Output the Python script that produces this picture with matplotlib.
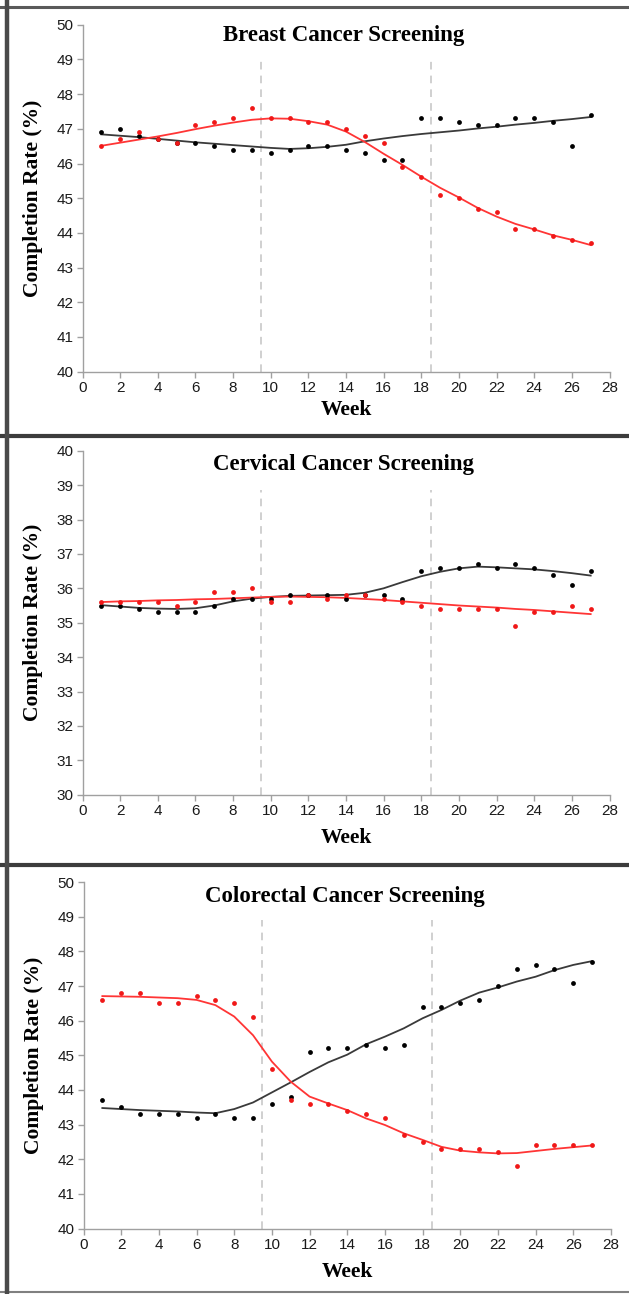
import matplotlib
matplotlib.use("Agg")
import matplotlib.pyplot as plt
from matplotlib.lines import Line2D

# ---------------- data ----------------
weeks = list(range(1, 28))
x_ticks = list(range(0, 29, 2))
intervention_weeks = [9.5, 18.5]

titles = ["Breast Cancer Screening", "Cervical Cancer Screening", "Colorectal Cancer Screening"]
y_ranges = [(40, 50), (30, 40), (40, 50)]

breast_black = [46.9, 47.0, 46.8, 46.7, 46.6, 46.6, 46.5, 46.4, 46.4, 46.3, 46.4, 46.5, 46.5, 46.4,
                46.3, 46.1, 46.1, 47.3, 47.3, 47.2, 47.1, 47.1, 47.3, 47.3, 47.2, 46.5, 47.4]
breast_red = [46.5, 46.7, 46.9, 46.7, 46.6, 47.1, 47.2, 47.3, 47.6, 47.3, 47.3, 47.2, 47.2, 47.0,
              46.8, 46.6, 45.9, 45.6, 45.1, 45.0, 44.7, 44.6, 44.1, 44.1, 43.9, 43.8, 43.7]
breast_black_fit = [46.84, 46.80, 46.76, 46.71, 46.66, 46.61, 46.57, 46.53, 46.49, 46.45, 46.42, 46.44,
                    46.48, 46.54, 46.64, 46.72, 46.79, 46.85, 46.90, 46.95, 47.01, 47.06, 47.12, 47.17,
                    47.23, 47.28, 47.34]
breast_red_fit = [46.51, 46.60, 46.69, 46.78, 46.88, 46.99, 47.09, 47.18, 47.26, 47.30, 47.29, 47.22,
                  47.12, 46.92, 46.62, 46.28, 45.96, 45.62, 45.30, 45.02, 44.72, 44.47, 44.26, 44.10,
                  43.93, 43.80, 43.65]

cervical_black = [35.5, 35.5, 35.4, 35.3, 35.3, 35.3, 35.5, 35.7, 35.7, 35.7, 35.8, 35.8, 35.8, 35.7,
                  35.8, 35.8, 35.7, 36.5, 36.6, 36.6, 36.7, 36.6, 36.7, 36.6, 36.4, 36.1, 36.5]
cervical_red = [35.6, 35.6, 35.6, 35.6, 35.5, 35.6, 35.9, 35.9, 36.0, 35.6, 35.6, 35.8, 35.7, 35.8,
                35.8, 35.7, 35.6, 35.5, 35.4, 35.4, 35.4, 35.4, 34.9, 35.3, 35.3, 35.5, 35.4]
cervical_black_fit = [35.51, 35.47, 35.43, 35.41, 35.40, 35.42, 35.50, 35.62, 35.70, 35.75, 35.78, 35.79,
                      35.80, 35.81, 35.87, 36.00, 36.18, 36.35, 36.48, 36.58, 36.63, 36.61, 36.58, 36.55,
                      36.50, 36.44, 36.37]
cervical_red_fit = [35.60, 35.62, 35.63, 35.65, 35.66, 35.68, 35.69, 35.71, 35.73, 35.75, 35.76, 35.75,
                    35.74, 35.72, 35.69, 35.66, 35.62, 35.58, 35.54, 35.50, 35.47, 35.44, 35.40, 35.37,
                    35.33, 35.29, 35.25]

colorectal_black = [43.7, 43.5, 43.3, 43.3, 43.3, 43.2, 43.3, 43.2, 43.2, 43.6, 43.8, 45.1, 45.2, 45.2,
                    45.3, 45.2, 45.3, 46.4, 46.4, 46.5, 46.6, 47.0, 47.5, 47.6, 47.5, 47.1, 47.7]
colorectal_red = [46.6, 46.8, 46.8, 46.5, 46.5, 46.7, 46.6, 46.5, 46.1, 44.6, 43.7, 43.6, 43.6, 43.4,
                  43.3, 43.2, 42.7, 42.5, 42.3, 42.3, 42.3, 42.2, 41.8, 42.4, 42.4, 42.4, 42.4]
colorectal_black_fit = [43.48, 43.45, 43.42, 43.40, 43.38, 43.35, 43.33, 43.45, 43.64, 43.93, 44.22, 44.52,
                        44.80, 45.02, 45.32, 45.54, 45.78, 46.07, 46.31, 46.58, 46.81, 46.96, 47.13, 47.27,
                        47.46, 47.61, 47.72]
colorectal_red_fit = [46.71, 46.70, 46.69, 46.67, 46.65, 46.60, 46.45, 46.12, 45.58, 44.82, 44.24, 43.81,
                      43.61, 43.42, 43.18, 42.99, 42.75, 42.56, 42.36, 42.25, 42.20, 42.17, 42.18, 42.24,
                      42.30, 42.35, 42.40]

black_points = [breast_black, cervical_black, colorectal_black]
red_points = [breast_red, cervical_red, colorectal_red]
black_fits = [breast_black_fit, cervical_black_fit, colorectal_black_fit]
red_fits = [breast_red_fit, cervical_red_fit, colorectal_red_fit]

# ---------------- style ----------------
SERIF = ["Liberation Serif", "DejaVu Serif"]
SANS = ["Liberation Sans", "DejaVu Sans"]
AXIS_GRAY = "#a0a0a0"
RED_DOT = "#f01818"
RED_LINE = "#ff3535"
BLACK_DOT = "#000000"
BLACK_LINE = "#3a3a3a"

W, H = 629, 1294
fig = plt.figure(figsize=(W / 100, H / 100), dpi=100)
fig.patch.set_facecolor("white")

# axes rectangles in pixels: (left, right, y_top, y_bottom)
rects = [(82.5, 609.5, 24.7, 371.7), (82.5, 609.5, 450.7, 794.7), (83.5, 611.0, 882.1, 1228.6)]
title_y = [0.953, 0.944, 0.943]
week_y = [-0.082, -0.097, -0.097]
dash_top = [0.95, 1.15, 1.1]

for i in range(3):
    l, r, t, b = rects[i]
    ax = fig.add_axes([l / W, 1 - b / H, (r - l) / W, (b - t) / H])
    ymin, ymax = y_ranges[i]
    ax.set_xlim(0, 28)
    ax.set_ylim(ymin, ymax)
    for side in ["top", "right"]:
        ax.spines[side].set_visible(False)
    for side in ["left", "bottom"]:
        ax.spines[side].set_color(AXIS_GRAY)
        ax.spines[side].set_linewidth(1.0)
    ax.set_xticks(x_ticks)
    ax.set_yticks(range(ymin, ymax + 1))
    ax.tick_params(direction="out", length=4, width=1.0, color=AXIS_GRAY,
                   labelsize=11, labelcolor="#1a1a1a", pad=2.5)
    for lab in ax.get_xticklabels() + ax.get_yticklabels():
        lab.set_family(SANS)

    top_frac = (ymax - dash_top[i] - ymin) / (ymax - ymin)
    for xv in intervention_weeks:
        ax.axvline(xv, ymin=0, ymax=top_frac, color="#c4c4c4", lw=1.1,
                   ls=(0, (5, 4)), zorder=1)

    ax.plot(weeks, black_fits[i], color=BLACK_LINE, lw=1.3, zorder=2)
    ax.plot(weeks, red_fits[i], color=RED_LINE, lw=1.3, zorder=2)
    ax.scatter(weeks, black_points[i], s=12, color=BLACK_DOT, zorder=3, linewidths=0)
    ax.scatter(weeks, red_points[i], s=12, color=RED_DOT, zorder=4, linewidths=0)

    ax.text(0.495, title_y[i], titles[i], transform=ax.transAxes, ha="center", va="baseline",
            fontsize=16.5, fontweight="bold", family=SERIF)
    ax.text(-0.094, 0.5, "Completion Rate (%)", transform=ax.transAxes, rotation=90,
            ha="center", va="center", fontsize=15.5, fontweight="bold", family=SERIF)
    ax.text(0.5, week_y[i], "Week", transform=ax.transAxes, ha="center", va="top",
            fontsize=15.5, fontweight="bold", family=SERIF)

# panel frame lines (figure decoration)
def hline(py, lw, color):
    fig.add_artist(Line2D([0.0, 1.0], [1 - py / H, 1 - py / H], transform=fig.transFigure,
                          color=color, lw=lw))

hline(7, 2.2, "#5a5a5a")
hline(436, 3.0, "#3c3c3c")
hline(865, 3.0, "#3c3c3c")
hline(1292, 1.5, "#808080")
fig.add_artist(Line2D([7 / W, 7 / W], [0, 1], transform=fig.transFigure, color="#4a4a4a", lw=3.2))

fig.savefig("out.png", dpi=100, facecolor="white")
